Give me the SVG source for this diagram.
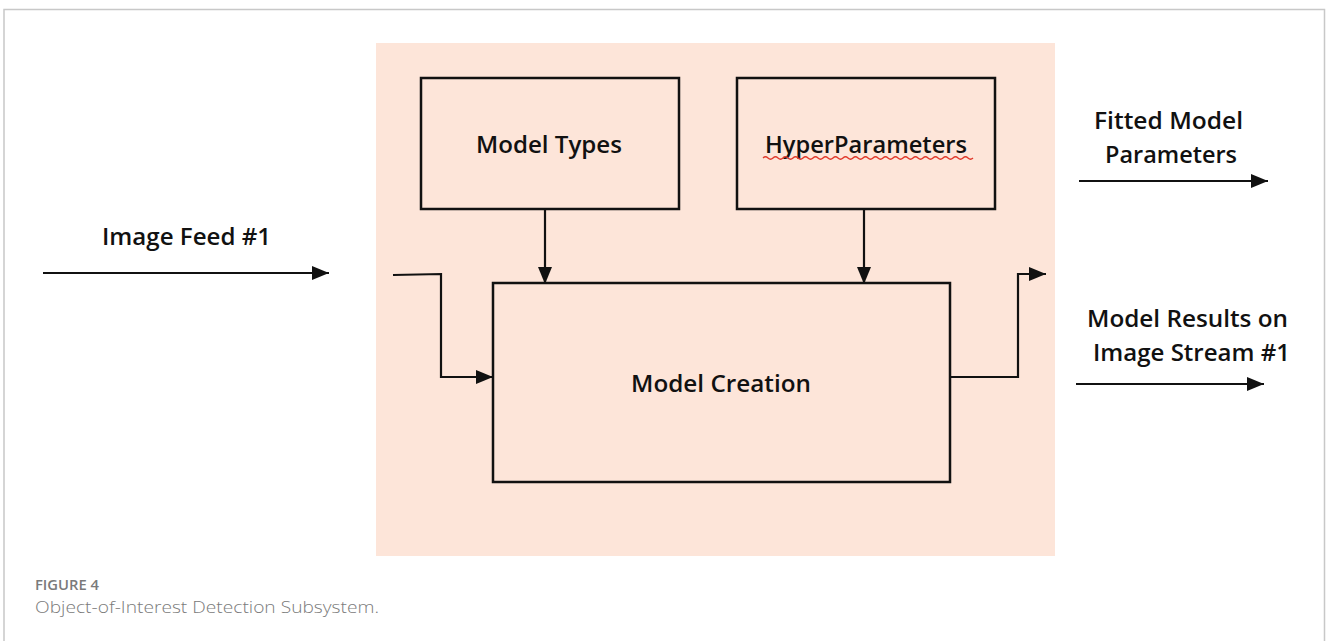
<svg xmlns="http://www.w3.org/2000/svg" width="1328" height="641" viewBox="0 0 1328 641">
  <style>
    .box { fill: none; stroke: #111; stroke-width: 2.5; }
    .wire { fill: none; stroke: #111; stroke-width: 2.2; }
    .lbl { font-family: "Open Sans", Lato, "Liberation Sans", sans-serif; font-size: 24px; font-weight: 600; fill: #111; }
    .cap-head { font-family: "Open Sans", "Liberation Sans", sans-serif; font-size: 14px; font-weight: 600; fill: #7a7a7a; }
    .cap { font-family: "Open Sans", "Liberation Sans", sans-serif; font-size: 17px; font-weight: 300; fill: #7a7a7a; }
  </style>
  <defs>
    <marker id="head" markerWidth="17" markerHeight="14" refX="17" refY="7" orient="auto" markerUnits="userSpaceOnUse">
      <path d="M0,0 L17,7 L0,14 Z" fill="#111"/>
    </marker>
  </defs>

  <rect width="1328" height="641" fill="#fff"/>
  <!-- figure frame -->
  <path d="M4,645 L4,9.5 L1324.5,9.5 L1324.5,645" fill="none" stroke="#c8c8c8" stroke-width="1.5"/>

  <!-- subsystem area -->
  <rect id="subsystem" x="376" y="43" width="679" height="513" fill="#fde5d9"/>

  <g id="model-types">
    <rect class="box" x="421" y="78" width="258" height="131"/>
    <text class="lbl" x="549" y="153" text-anchor="middle" textLength="146" lengthAdjust="spacingAndGlyphs">Model Types</text>
  </g>

  <g id="hyperparameters">
    <rect class="box" x="737" y="78" width="258" height="131"/>
    <text class="lbl" x="866" y="153" text-anchor="middle" textLength="202" lengthAdjust="spacingAndGlyphs">HyperParameters</text>
    <path d="M763,158 q2.5,-2.5 5,0 t5,0 t5,0 t5,0 t5,0 t5,0 t5,0 t5,0 t5,0 t5,0 t5,0 t5,0 t5,0 t5,0 t5,0 t5,0 t5,0 t5,0 t5,0 t5,0 t5,0 t5,0 t5,0 t5,0 t5,0 t5,0 t5,0 t5,0 t5,0 t5,0 t5,0 t5,0 t5,0 t5,0 t5,0 t5,0 t5,0 t5,0 t5,0 t5,0 t5,0 t5,0" fill="none" stroke="#e0392b" stroke-width="1.3"/>
  </g>

  <g id="model-creation">
    <rect class="box" x="493" y="283" width="457" height="199"/>
    <text class="lbl" x="721" y="392" text-anchor="middle" textLength="180" lengthAdjust="spacingAndGlyphs">Model Creation</text>
  </g>

  <g id="image-feed">
    <text class="lbl" x="102" y="245" textLength="169" lengthAdjust="spacingAndGlyphs">Image Feed #1</text>
  </g>

  <g id="fitted-params">
    <text class="lbl" x="1094" y="129" textLength="149" lengthAdjust="spacingAndGlyphs">Fitted Model</text>
    <text class="lbl" x="1105" y="163" textLength="132" lengthAdjust="spacingAndGlyphs">Parameters</text>
  </g>

  <g id="model-results">
    <text class="lbl" x="1087" y="327" textLength="201" lengthAdjust="spacingAndGlyphs">Model Results on</text>
    <text class="lbl" x="1093" y="361" textLength="197" lengthAdjust="spacingAndGlyphs">Image Stream #1</text>
  </g>

  <g id="connectors">
    <line class="wire" x1="43" y1="273" x2="329" y2="273" marker-end="url(#head)"/>
    <line class="wire" x1="1079" y1="181" x2="1268" y2="181" marker-end="url(#head)"/>
    <line class="wire" x1="1076" y1="384" x2="1264" y2="384" marker-end="url(#head)"/>
    <line class="wire" x1="545" y1="209" x2="545" y2="284" marker-end="url(#head)"/>
    <line class="wire" x1="864" y1="209" x2="864" y2="284" marker-end="url(#head)"/>
    <polyline class="wire" points="393,275 441,274 441,377 493,377" marker-end="url(#head)"/>
    <polyline class="wire" points="950,377 1018,377 1018,274 1046,274" marker-end="url(#head)"/>
  </g>

  <g id="caption">
    <text class="cap-head" x="35" y="590" textLength="64" lengthAdjust="spacingAndGlyphs">FIGURE 4</text>
    <text class="cap" x="35" y="613" textLength="344" lengthAdjust="spacingAndGlyphs">Object-of-Interest Detection Subsystem.</text>
  </g>
</svg>
